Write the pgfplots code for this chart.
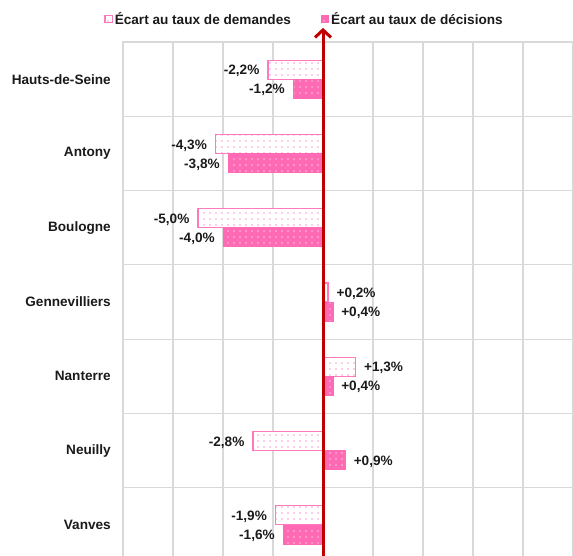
\documentclass[border=0pt]{standalone}
\usepackage{pgfplots}
\pgfplotsset{compat=1.18}
\usepackage{fontspec}
\setmainfont{Liberation Sans}
\usetikzlibrary{patterns.meta,arrows.meta}
\definecolor{pinkline}{HTML}{FF7ABD}
\definecolor{pinkfill}{HTML}{FF6AB4}
\definecolor{pinkdot}{HTML}{FF9CCD}
\definecolor{pinkdotlight}{HTML}{FFBDDE}
\definecolor{gridgray}{HTML}{D9D9D9}
\definecolor{darkred}{HTML}{C00000}
\definecolor{txt}{HTML}{1A1A1A}

\begin{document}
\begin{tikzpicture}[font=\fontsize{13.6}{15}\selectfont\bfseries]
\begin{axis}[
  scale only axis, width=457.5pt, height=520pt,
  xmin=-8, xmax=10.3, ymin=-0.5, ymax=6.5, y dir=reverse,
  xbar, bar width=19pt,
  xtick={-8,-6,...,10}, xticklabels={},
  ytick={0,...,6},
  yticklabels={Hauts-de-Seine,Antony,Boulogne,Gennevilliers,Nanterre,Neuilly,Vanves},
  yticklabel style={font=\fontsize{13.6}{15}\selectfont\bfseries, text=txt, inner sep=0pt, xshift=-12pt},
  minor ytick={0.5,1.5,...,5.5},
  xmajorgrids, yminorgrids, ymajorgrids=false,
  grid style={gridgray, line width=1.2pt},
  minor grid style={gridgray, line width=1.2pt},
  axis line style={gridgray, line width=1.2pt},
  major tick length=0pt, minor tick length=0pt,
  clip=false,
  point meta=x,
  nodes near coords={\pgfmathprintnumber{\pgfplotspointmeta}\%},
  nodes near coords align=horizontal,
  every node near coord/.append style={font=\fontsize{13.6}{15}\selectfont\bfseries, text=txt, inner xsep=8pt, yshift=-1.5pt},
  legend style={at={(axis description cs:0.397,1.044)}, anchor=center, draw=none, fill=none, legend columns=2, font=\fontsize{13.6}{15}\selectfont\bfseries, text=txt, /tikz/every even column/.append style={column sep=28pt}, inner sep=0pt},
  legend cell align=left,
  /pgf/number format/.cd, fixed, fixed zerofill, precision=1, use comma, showpos, assume math mode=true,
]
\addplot[bar shift=9.5pt, draw=pinkline, line width=1.2pt, fill=white,
  postaction={pattern={Dots[distance=6pt,radius=0.9pt]}, pattern color=pinkdot},
  legend image code/.code={\draw[draw=pinkline, fill=white, line width=1.1pt] (0pt,-3.6pt) rectangle (7.2pt,3.6pt);}]
  coordinates {(-2.2,0) (-4.3,1) (-5.0,2) (0.2,3) (1.3,4) (-2.8,5) (-1.9,6)};
\addlegendentry{Écart au taux de demandes}
\addplot[bar shift=-9.5pt, draw=pinkfill, line width=0.6pt, fill=pinkfill,
  postaction={pattern={Dots[distance=6pt,radius=0.9pt]}, pattern color=pinkdotlight},
  legend image code/.code={\draw[draw=pinkfill, fill=pinkfill, line width=1.1pt] (0pt,-3.6pt) rectangle (7.2pt,3.6pt);}]
  coordinates {(-1.2,0) (-3.8,1) (-4.0,2) (0.4,3) (0.4,4) (0.9,5) (-1.6,6)};
\addlegendentry{Écart au taux de décisions}
\draw[darkred, line width=3pt, -{Straight Barb[length=7.5pt,width=16pt]}] (axis cs:0,6.7) -- (axis cs:0,-0.69);
\end{axis}
\pgfresetboundingbox
\path[use as bounding box] (-123pt,7pt) rectangle (450pt,562pt);
\end{tikzpicture}
\end{document}
